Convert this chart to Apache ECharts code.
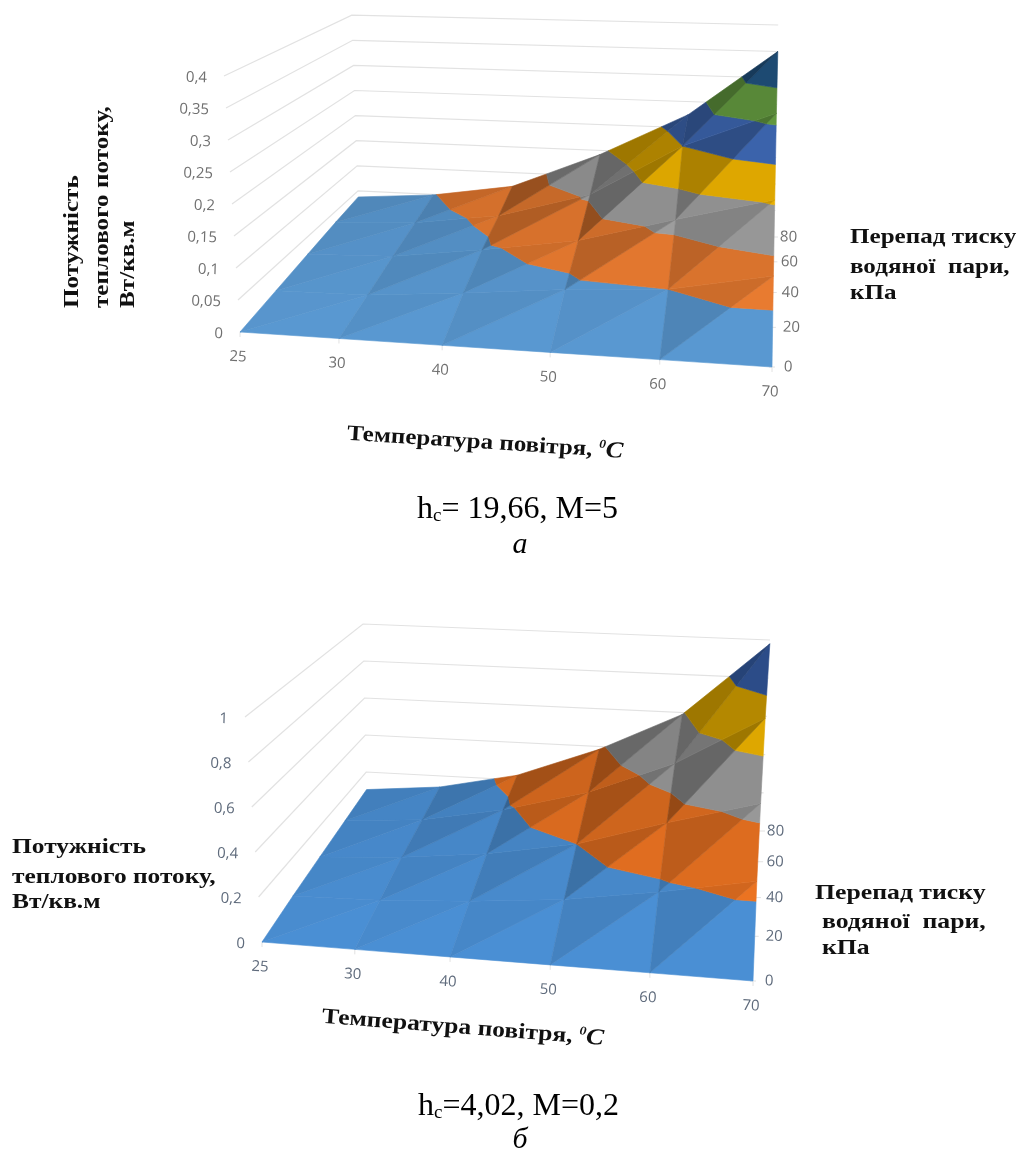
<!DOCTYPE html>
<html><head><meta charset="utf-8">
<style>html,body{margin:0;padding:0;background:#fff}#c{width:1018px;height:1150px;filter:blur(0.45px)}</style>
<script src="https://cdn.jsdelivr.net/npm/echarts@6/dist/echarts.min.js"></script>
</head><body><div id="c"></div>
<script>
// ---- data ----
const temperatures = [25, 30, 40, 50, 60, 70];
const pressures = [0, 20, 40, 60, 80];
// heat flux, rows = pressure, columns = temperature
const fluxA_p0  = [0, 0, 0, 0, 0, 0];
const fluxA_p20 = [0.010, 0.012, 0.025, 0.040, 0.050, 0.080];
const fluxA_p40 = [0.020, 0.025, 0.045, 0.070, 0.114, 0.155];
const fluxA_p60 = [0.030, 0.037, 0.058, 0.105, 0.200, 0.265];
const fluxA_p80 = [0.038, 0.049, 0.073, 0.142, 0.225, 0.350];
const fluxB_p0  = [0, 0, 0, 0, 0, 0];
const fluxB_p20 = [0.030, 0.040, 0.065, 0.105, 0.170, 0.250];
const fluxB_p40 = [0.055, 0.080, 0.125, 0.200, 0.330, 0.450];
const fluxB_p60 = [0.080, 0.110, 0.185, 0.300, 0.470, 0.720];
const fluxB_p80 = [0.105, 0.140, 0.225, 0.385, 0.590, 0.980];
const fluxTicksA = [0, 0.05, 0.1, 0.15, 0.2, 0.25, 0.3, 0.35, 0.4];
const fluxTicksB = [0, 0.2, 0.4, 0.6, 0.8, 1];
const bandColorsA = ['#5B9BD5', '#ED7D31', '#A5A5A5', '#FFC000', '#4472C4', '#70AD47', '#255E91'];
const bandColorsB = ['#4C92D8', '#F07522', '#A5A5A5', '#FFC000', '#3E6CC0'];

// ---- view set-up (3D projection of the Excel surface charts) ----
const viewA = {
  grid: [fluxA_p0, fluxA_p20, fluxA_p40, fluxA_p60, fluxA_p80],
  ticks: fluxTicksA, step: 0.05, zMax: 0.35, colors: bandColorsA, tickFill: '#707070',
  FL: [240, 332], FR: [772, 367], BL: [359, 216], BR: [775, 237],
  uFront: [0, .186, .380, .583, .789, 1], uBack: [0, .18, .37, .58, .79, 1],
  v: [0, .305, .573, .809, 1],
  k: [640, 690, 502, 530], lean: [-40, 5, -18, 8]
};
const viewB = {
  grid: [fluxB_p0, fluxB_p20, fluxB_p40, fluxB_p60, fluxB_p80],
  ticks: fluxTicksB, step: 0.2, zMax: 1, colors: bandColorsB, tickFill: '#5f6b7c',
  FL: [262, 942], FR: [753, 981], BL: [367, 809], BR: [762, 831],
  uFront: [0, .189, .383, .587, .790, 1], uBack: [0, .185, .38, .585, .79, 1],
  v: [0, .298, .556, .795, 1],
  k: [225, 232, 185, 191], lean: [-17, 3, -4, 8]
};
const lerp = (a, b, t) => a + (b - a) * t;
function project(view, iu, jv, z) {
  const fu = view.uFront[iu], bu = view.uBack[iu], t = view.v[jv];
  const fx = lerp(view.FL[0], view.FR[0], fu), fy = lerp(view.FL[1], view.FR[1], fu);
  const bx = lerp(view.BL[0], view.BR[0], bu), by = lerp(view.BL[1], view.BR[1], bu);
  const bil = a => lerp(lerp(a[0], a[1], fu), lerp(a[2], a[3], bu), t);
  return [lerp(fx, bx, t) + bil(view.lean) * z, lerp(fy, by, t) - bil(view.k) * z];
}
function shadeColor(hex, b) {
  const n = parseInt(hex.slice(1), 16);
  const c = s => Math.max(0, Math.min(255, Math.round(((n >> s) & 255) * b)));
  return 'rgb(' + c(16) + ',' + c(8) + ',' + c(0) + ')';
}
function clip(poly, limit, keepAbove) {
  const out = [];
  for (let i = 0; i < poly.length; i++) {
    const a = poly[i], b = poly[(i + 1) % poly.length];
    const ia = keepAbove ? a[2] >= limit : a[2] <= limit;
    const ib = keepAbove ? b[2] >= limit : b[2] <= limit;
    if (ia) out.push(a);
    if (ia !== ib) {
      const t = (limit - a[2]) / (b[2] - a[2]);
      out.push([lerp(a[0], b[0], t), lerp(a[1], b[1], t), limit]);
    }
  }
  return out;
}
function triangles() {
  const d = [];
  for (let j = 0; j < pressures.length - 1; j++)
    for (let i = 0; i < temperatures.length - 1; i++) { d.push([i, j, 0]); d.push([i, j, 1]); }
  return d;
}
function surfaceSeries(view) {
  return {
    type: 'custom', coordinateSystem: 'cartesian2d', silent: true, clip: false, z: 5,
    data: triangles(),
    renderItem(params, api) {
      const i = api.value(0), j = api.value(1), dark = api.value(2);
      const g = view.grid;
      const tri = dark
        ? [[i, j], [i + 1, j + 1], [i, j + 1]]
        : [[i, j], [i + 1, j], [i + 1, j + 1]];
      const verts = tri.map(([a, b]) => {
        const z = g[b][a];
        const c = api.coord(project(view, a, b, z));
        return [c[0], c[1], z];
      });
      const du = Math.max(0, (dark ? g[j + 1][i + 1] - g[j + 1][i] : g[j][i + 1] - g[j][i]) / view.zMax);
      let b = 0.98 - 0.02 * j - 1.7 * Math.pow(du, 1.5);
      if (dark) b -= Math.min(0.13, 0.012 + 0.75 * du);
      b = Math.max(0.62, b);
      const children = [];
      view.colors.forEach((col, n) => {
        let poly = clip(verts, n * view.step, true);
        if (poly.length) poly = clip(poly, (n + 1) * view.step, false);
        if (poly.length >= 3) {
          const fill = shadeColor(col, b);
          children.push({
            type: 'polygon',
            shape: { points: poly.map(p => [p[0], p[1]]) },
            style: { fill, stroke: fill, lineWidth: 0.6 }
          });
        }
      });
      return { type: 'group', children };
    }
  };
}
function tickText(view) { return { fill: view.tickFill, fontFamily: 'Open Sans', fontSize: 15 }; }
function wallSeries(view) {
  return {
    type: 'custom', coordinateSystem: 'cartesian2d', silent: true, clip: false, z: 2,
    data: view.ticks.map(t => [t]),
    renderItem(params, api) {
      const z = api.value(0);
      const last = temperatures.length - 1, top = pressures.length - 1;
      const a = api.coord(project(view, 0, 0, z));
      const b = api.coord(project(view, 0, top, z));
      const c = api.coord(project(view, last, top, z));
      const kids = [{
        type: 'text', x: a[0] - 17, y: a[1] + 2, rotation: -0.03,
        style: Object.assign({ text: String(z).replace('.', ','), align: 'right', verticalAlign: 'middle' }, tickText(view))
      }];
      if (z > 0) kids.push({
        type: 'polyline', shape: { points: [a, b, c] },
        style: { fill: 'none', stroke: '#e2e2e2', lineWidth: 1.2 }
      });
      return { type: 'group', children: kids };
    }
  };
}
function tempAxisSeries(view) {
  return {
    type: 'custom', coordinateSystem: 'cartesian2d', silent: true, clip: false, z: 3,
    data: temperatures.map((t, i) => [i, t]),
    renderItem(params, api) {
      const c = api.coord(project(view, api.value(0), 0, 0));
      return { type: 'group', children: [
        { type: 'line', shape: { x1: c[0], y1: c[1], x2: c[0], y2: c[1] + 5 }, style: { stroke: '#e2e2e2', lineWidth: 1 } },
        { type: 'text', x: c[0] - 2, y: c[1] + 25, rotation: -0.05,
          style: Object.assign({ text: String(api.value(1)), align: 'center', verticalAlign: 'middle' }, tickText(view)) }
      ] };
    }
  };
}
function pressureAxisSeries(view) {
  return {
    type: 'custom', coordinateSystem: 'cartesian2d', silent: true, clip: false, z: 3,
    data: pressures.map((p, j) => [j, p]),
    renderItem(params, api) {
      const j = api.value(0);
      const c = api.coord(project(view, temperatures.length - 1, j, 0));
      return { type: 'group', children: [
        { type: 'line', shape: { x1: c[0] - 3, y1: c[1], x2: c[0] + 3, y2: c[1] }, style: { stroke: '#e2e2e2', lineWidth: 1 } },
        { type: 'text', x: c[0] + 12 - 7 * view.v[j], y: c[1], rotation: -0.03,
          style: Object.assign({ text: String(api.value(1)), align: 'left', verticalAlign: 'middle' }, tickText(view)) }
      ] };
    }
  };
}
// ---- titles ----
const serifBold = { fontFamily: 'Liberation Serif', fontWeight: 'bold', fontSize: 22, fill: '#111' };
function label(text, x, y, scaleX, rotation, extra) {
  return { type: 'text', x, y, scaleX: scaleX, scaleY: 1, rotation: rotation || 0, silent: true,
    style: Object.assign({ text, align: 'left', verticalAlign: 'middle' }, serifBold, extra || {}) };
}
const tempRich = {
  rich: {
    a: { fontFamily: 'Liberation Serif', fontWeight: 'bold', fontSize: 22, fill: '#111' },
    s: { fontFamily: 'Liberation Serif', fontWeight: 'bold', fontStyle: 'italic', fontSize: 12, fill: '#111', verticalAlign: 'top', lineHeight: 24 },
    c: { fontFamily: 'Liberation Serif', fontWeight: 'bold', fontStyle: 'italic', fontSize: 23, fill: '#111' }
  }
};
const tempTitle = '{a|Температура повітря, }{s|0}{c|C}';
function caption(head, x, y) {
  return { type: 'text', x, y, silent: true,
    style: { text: '{a|h}{b|c}{a|' + head + '}', align: 'left', verticalAlign: 'middle',
      rich: { a: { fontFamily: 'Liberation Serif', fontSize: 32, fill: '#000' },
              b: { fontFamily: 'Liberation Serif', fontSize: 19, fill: '#000', verticalAlign: 'bottom', lineHeight: 32 } } } };
}
function letter(t, x, y) {
  return { type: 'text', x, y, silent: true,
    style: { text: t, align: 'center', verticalAlign: 'middle', fontFamily: 'Liberation Serif', fontStyle: 'italic', fontSize: 30, fill: '#000' } };
}
const R = Math.PI / 2;
const graphics = [
  label('Потужність', 72, 308, 1.145, R),
  label('теплового потоку,', 102, 308, 1.145, R),
  label('Вт/кв.м', 128, 308, 1.145, R),
  label('Перепад тиску', 850, 237, 1.14),
  label('водяної  пари,', 850, 267, 1.14),
  label('кПа', 850, 293, 1.14),
  label(tempTitle, 347, 434, 1.14, -0.065, tempRich),
  caption('= 19,66, M=5', 417, 510),
  letter('a', 520, 545),
  label('Потужність', 12, 847, 1.155),
  label('теплового потоку,', 12, 877, 1.155),
  label('Вт/кв.м', 12, 902, 1.155),
  label('Перепад тиску', 815, 893, 1.17),
  label('водяної  пари,', 822, 922, 1.17),
  label('кПа', 822, 948, 1.17),
  label(tempTitle, 322, 1017, 1.165, -0.078, tempRich),
  caption('=4,02, M=0,2', 418, 1107),
  letter('б', 520, 1140)
];
const option = {
  animation: false, backgroundColor: '#fff',
  grid: { left: 0, right: 0, top: 0, bottom: 0 },
  xAxis: { type: 'value', min: 0, max: 1018, show: false },
  yAxis: { type: 'value', min: 0, max: 1150, inverse: true, show: false },
  series: [
    wallSeries(viewA), tempAxisSeries(viewA), pressureAxisSeries(viewA), surfaceSeries(viewA),
    wallSeries(viewB), tempAxisSeries(viewB), pressureAxisSeries(viewB), surfaceSeries(viewB)
  ],
  graphic: { elements: graphics }
};
echarts.init(document.getElementById('c'), null, { renderer: 'canvas', width: 1018, height: 1150 }).setOption(option);
</script></body></html>
